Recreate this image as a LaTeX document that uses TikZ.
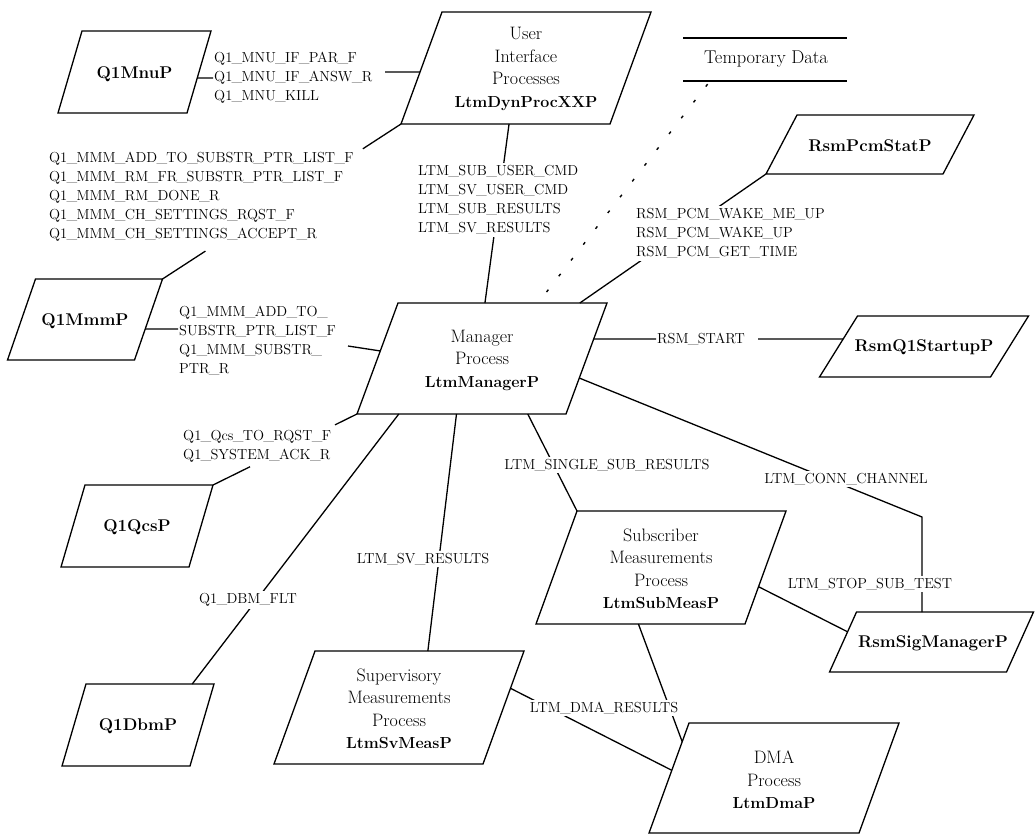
\documentclass[tikz,border=0pt]{standalone}
\usetikzlibrary{calc}

% narrower underscores in the message names
\renewcommand{\_}{\kern-0.7pt\textunderscore\kern-0.7pt}

% parallelogram process box: name, centre x, centre y, width, height, slant
\newcommand{\pgram}[6]{%
  \coordinate (#1-tl) at ({#2-#4/2+#6/2},{#3-#5/2});
  \coordinate (#1-tr) at ({#2+#4/2+#6/2},{#3-#5/2});
  \coordinate (#1-br) at ({#2+#4/2-#6/2},{#3+#5/2});
  \coordinate (#1-bl) at ({#2-#4/2-#6/2},{#3+#5/2});
  \draw[boxline] (#1-tl) -- (#1-tr) -- (#1-br) -- (#1-bl) -- cycle;
}

\begin{document}
\begin{tikzpicture}[x=1pt,y=-1pt,
  boxline/.style={line width=1.3pt, line join=miter},
  conn/.style={line width=1.3pt},
  dotline/.style={line width=1.4pt, dash pattern=on 3pt off 17pt},
  bigtext/.style={align=center, inner sep=0pt, font=\fontsize{18}{22.5}\selectfont},
  nametext/.style={inner sep=0pt, font=\fontsize{17}{20}\selectfont\bfseries},
  msglbl/.style={inner sep=1pt, align=left, font=\fontsize{14.5}{19}\selectfont},
  msgmask/.style={msglbl, fill=white, inner sep=2pt},
]
\useasboundingbox (0,0) rectangle (1036,836);
\fill[white] (0,0) rectangle (1036,836);

% ---------- process boxes ----------
\pgram{mnu}{134.5}{72}{129}{82}{24}
\pgram{ui}{526}{68}{209}{112}{41}
\pgram{mmm}{85}{319.5}{127}{81}{28}
\pgram{mgr}{482}{358.5}{209}{111}{41}
\pgram{pcm}{870}{144.5}{177}{59}{31}
\pgram{start}{924}{346.5}{171}{61}{38}
\pgram{qcs}{137}{526}{128}{82}{24}
\pgram{dbm}{138}{725}{128}{82}{24}
\pgram{sv}{399}{707.5}{209}{113}{41}
\pgram{sub}{661}{567.5}{209}{113}{41}
\pgram{sig}{931.5}{642}{177}{60}{27}
\pgram{dma}{774}{778}{210}{110}{40}

\node[nametext] (mnuP) at (134.5,74) {Q1MnuP};
\node[nametext] (mmmP) at (85,321) {Q1MmmP};
\node[nametext] (qcsP) at (137,527) {Q1QcsP};
\node[nametext] (dbmP) at (138,726) {Q1DbmP};
\node[nametext] (pcmP) at (870,145.5) {RsmPcmStatP};
\node[nametext] (startP) at (924,347.5) {RsmQ1StartupP};
\node[nametext] (sigP) at (933,643) {RsmSigManagerP};
\node[bigtext] (uiP) at (526,69) {User\\Interface\\Processes\\{\fontsize{16}{22.5}\selectfont\bfseries LtmDynProcXXP}};
\node[bigtext] (mgrP) at (482,360) {Manager\\Process\\{\fontsize{16}{22.5}\selectfont\bfseries LtmManagerP}};
\node[bigtext] (subP) at (661,569) {Subscriber\\Measurements\\Process\\{\fontsize{16}{22.5}\selectfont\bfseries LtmSubMeasP}};
\node[bigtext] (svP) at (399,709) {Supervisory\\Measurements\\Process\\{\fontsize{16}{22.5}\selectfont\bfseries LtmSvMeasP}};
\node[bigtext] (dmaP) at (774,780) {DMA\\Process\\{\fontsize{16}{22.5}\selectfont\bfseries LtmDmaP}};

% ---------- data store ----------
\coordinate (tmpa-l) at (683,38);
\coordinate (tmpa-r) at (847,38);
\coordinate (tmpb-l) at (683,81);
\coordinate (tmpb-r) at (847,81);
\draw[conn] (tmpa-l) -- (tmpa-r);
\draw[conn] (tmpb-l) -- (tmpb-r);
\node[font=\fontsize{18.5}{20}\selectfont] (tmp) at (766,59) {Temporary Data};

% ---------- connectors running under their labels ----------
\draw[dotline, shorten <=4pt] ($(tmpb-l)!0.165!(tmpb-r)$) -- ($(mgr-tl)!0.67!(mgr-tr)$);
\draw[conn] ($(ui-bl)!0.517!(ui-br)$) -- ($(mgr-tl)!0.416!(mgr-tr)$);
\draw[conn] (pcm-bl) -- ($(mgr-tl)!0.87!(mgr-tr)$);
\coordinate (sigtop) at ($(sig-tl)!0.37!(sig-tr)$);
\coordinate (connlvl) at (0,517);
\draw[conn] ($(mgr-tr)!0.676!(mgr-br)$) -- (sigtop |- connlvl) -- (sigtop);
\draw[conn] ($(mgr-bl)!0.2!(mgr-br)$) -- ($(dbm-tl)!0.83!(dbm-tr)$);
\draw[conn] ($(mgr-bl)!0.476!(mgr-br)$) -- ($(sv-tl)!0.54!(sv-tr)$);
\draw[conn] ($(mgr-bl)!0.817!(mgr-br)$) -- (sub-tl);
\draw[conn] ($(sub-tr)!0.67!(sub-br)$) -- ($(sig-tl)!0.33!(sig-bl)$);
\draw[conn] ($(sub-bl)!0.49!(sub-br)$) -- ($(dma-tl)!0.17!(dma-bl)$);
\draw[conn] ($(sv-tr)!0.33!(sv-br)$) -- ($(dma-tl)!0.43!(dma-bl)$);

% connectors broken round a label block
\draw[conn] (ui-bl) -- ($(ui-bl)!0.16!(mmm-tr)$);
\draw[conn] ($(ui-bl)!0.82!(mmm-tr)$) -- (mmm-tr);
\draw[conn] (mgr-bl) -- ($(mgr-bl)!0.153!(qcs-tr)$);
\draw[conn] ($(mgr-bl)!0.743!(qcs-tr)$) -- (qcs-tr);

% ---------- message labels ----------
\node[msglbl, anchor=west] (mnulbl) at (213,78)
  {Q1\_MNU\_IF\_PAR\_F\\Q1\_MNU\_IF\_ANSW\_R\\Q1\_MNU\_KILL};
\node[msglbl, anchor=west] (mmmlbl) at (48,196.5)
  {Q1\_MMM\_ADD\_TO\_SUBSTR\_PTR\_LIST\_F\\Q1\_MMM\_RM\_FR\_SUBSTR\_PTR\_LIST\_F\\Q1\_MMM\_RM\_DONE\_R\\Q1\_MMM\_CH\_SETTINGS\_RQST\_F\\Q1\_MMM\_CH\_SETTINGS\_ACCEPT\_R};
\node[msglbl, anchor=west] (ptrlbl) at (178,340.5)
  {Q1\_MMM\_ADD\_TO\_\\SUBSTR\_PTR\_LIST\_F\\Q1\_MMM\_SUBSTR\_\\PTR\_R};
\node[msgmask, anchor=west] (ltmlbl) at (416,200)
  {LTM\_SUB\_USER\_CMD\\LTM\_SV\_USER\_CMD\\LTM\_SUB\_RESULTS\\LTM\_SV\_RESULTS};
\node[msgmask, anchor=west] (pcmlbl) at (634,233.5)
  {RSM\_PCM\_WAKE\_ME\_UP\\RSM\_PCM\_WAKE\_UP\\RSM\_PCM\_GET\_TIME};
\node[msglbl, anchor=west] (startlbl) at (656,339) {RSM\_START};
\node[msgmask] (connlbl) at (846,479) {LTM\_CONN\_CHANNEL};
\node[msgmask] (stoplbl) at (870,584) {LTM\_STOP\_SUB\_TEST};
\node[msgmask] (singlelbl) at (607,465) {LTM\_SINGLE\_SUB\_RESULTS};
\node[msgmask] (svlbl) at (423,559) {LTM\_SV\_RESULTS};
\node[msgmask] (dmalbl) at (604,708) {LTM\_DMA\_RESULTS};
\node[msgmask] (dbmlbl) at (248,600) {Q1\_DBM\_FLT};
\node[msglbl, anchor=west] (qcslbl) at (182,446)
  {Q1\_Qcs\_TO\_RQST\_F\\Q1\_SYSTEM\_ACK\_R};

% ---------- connectors ending at a label ----------
\draw[conn] ($(mnu-tr)!0.573!(mnu-br)$) -- (mnulbl.west);
\coordinate (mnuout) at (385,72);
\draw[conn] (mnuout) -- ($(ui-tl)!0.536!(ui-bl)$);
\coordinate (ptrin) at (178,329);
\draw[conn] ($(mmm-tr)!0.617!(mmm-br)$) -- (ptrin);
\coordinate (ptrout) at (348,346);
\draw[conn] (ptrout) -- ($(mgr-tl)!0.432!(mgr-bl)$);
\draw[conn] ($(mgr-tr)!0.324!(mgr-br)$) -- (startlbl.west);
\coordinate (startout) at (758,339);
\draw[conn] (startout) -- ($(start-tl)!0.377!(start-bl)$);
\end{tikzpicture}
\end{document}
